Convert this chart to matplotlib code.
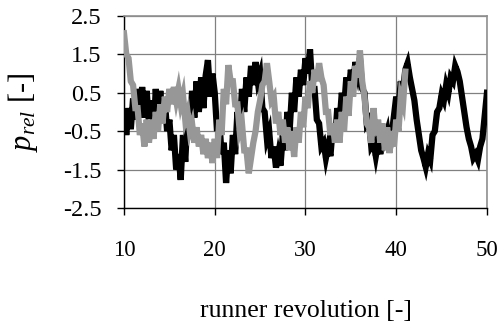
import numpy as np
import matplotlib
matplotlib.use("Agg")
import matplotlib.pyplot as plt

plt.rcParams['font.family'] = ['Liberation Serif', 'DejaVu Serif']
plt.rcParams['mathtext.fontset'] = 'custom'
plt.rcParams['mathtext.rm'] = 'Liberation Serif'
plt.rcParams['mathtext.it'] = 'Liberation Serif:italic'

# runner revolution sampled every quarter turn
rev_black = np.arange(10, 50.001, 0.25)
p_black = [
    0.0, -0.6, 0.1, -0.45, 0.35, -0.2, 0.6, -0.1,
    0.65, -0.15, 0.55, -0.3, 0.3, -0.65, 0.6, -0.2,
    0.55, -0.25, 0.3, -0.5, -0.2, -1.0, -0.6, -1.5,
    -1.1, -1.77, -0.6, -1.3, -0.1, -0.6, 0.55, -0.15,
    0.8, 0.0, 0.9, 0.1, 0.95, 1.35, 0.4, 1.0,
    0.5, -0.5, -0.2, -1.1, -0.8, -1.85, -1.0, -1.6,
    -0.6, -1.1, 0.0, -0.5, 0.6, 0.0, 0.9, 0.4,
    1.2, 0.7, 1.3, 0.8, 1.0, 0.1, 0.0, -0.7,
    -0.5, -1.2, -0.9, -1.45, -1.1, -1.4, -0.6, -1.0,
    0.0, -0.5, 0.5, 0.0, 0.9, 0.4, 1.1, 0.7,
    1.4, 1.0, 1.63, 0.6, 0.6, -0.2, -0.3, -0.9,
    -0.8, -1.2, -0.9, -1.15, -0.4, -0.8, 0.1, -0.3,
    0.5, 0.1, 0.9, 0.5, 1.1, 0.7, 1.3, 1.0,
    1.4, 0.6, 0.5, -0.3, -0.2, -0.9, -0.8, -1.15,
    -0.8, -1.1, -0.4, -0.7, -0.5, -1.05, -0.6, -0.1,
    0.4, 0.1, 0.8, 0.55, 1.1, 1.27, 0.9, 0.6,
    0.3, -0.2, -0.6, -1.0, -1.2, -1.43, -1.1, -1.25,
    -0.6, -0.5, 0.0, 0.1, 0.45, 0.3, 0.7, 0.5,
    0.9, 0.8, 1.2, 1.05, 0.8, 0.4, 0.0, -0.4,
    -0.7, -0.9, -1.2, -1.1, -1.25, -0.9, -0.7, -0.1,
    0.5,
]

rev_grey = np.arange(10, 41.001, 0.25)
p_grey = [
    2.05, 1.5, 1.4, 0.8, 0.7, 0.1, 0.1, -0.6,
    -0.3, -0.9, -0.2, -0.8, -0.2, -0.7, 0.0, -0.5,
    0.2, -0.3, 0.4, 0.0, 0.6, 0.2, 0.65, 0.3,
    0.6, 0.2, 0.45, -0.2, 0.0, -0.5, -0.3, -0.8,
    -0.4, -0.9, -0.6, -1.1, -0.7, -1.2, -0.8, -1.33,
    -0.7, -1.2, -0.2, -0.6, 0.6, 0.2, 1.22, 0.8,
    0.8, 0.2, 0.2, -0.5, -0.3, -1.0, -1.0, -1.6,
    -1.2, -0.8, -0.5, 0.0, 0.3, 0.7, 0.8, 1.27,
    0.8, 0.3, 0.4, -0.3, 0.0, -0.6, -0.2, -0.8,
    -0.4, -1.0, -0.5, -1.17, -0.4, -0.8, 0.0, -0.4,
    0.4, 0.1, 0.8, 0.5, 1.1, 0.8, 1.27, 0.9,
    0.7, 0.0, 0.0, -0.6, -0.3, -0.8, -0.2, -0.8,
    0.0, -0.5, 0.4, -0.1, 0.8, 0.4, 1.2, 0.9,
    1.6, 0.8, 0.4, -0.3, -0.4, -0.8, 0.1, -0.6,
    -0.2, -0.8, -0.3, -1.0, -0.4, -1.07, -0.5, -0.9,
    -0.2, -0.5, 0.4, 0.2,
    1.05,
]

xticks = [10, 20, 30, 40, 50]
yticks = [-2.5, -1.5, -0.5, 0.5, 1.5, 2.5]

fig = plt.figure(figsize=(5.01, 3.29), dpi=100)
ax = fig.add_axes([0.2475, 0.368, 0.7245, 0.5834])

ax.plot(rev_black, p_black, color='black', linewidth=4.5, solid_joinstyle='miter', zorder=3)
ax.plot(rev_grey, p_grey, color='#979797', linewidth=4.5, solid_joinstyle='miter', zorder=4)

ax.set_xlim(10, 50)
ax.set_ylim(-2.5, 2.5)
ax.set_xticks(xticks)
ax.set_yticks(yticks)
ax.set_yticklabels([f"{v:.1f}" for v in yticks])
ax.grid(True, color='#808080', linewidth=0.9)
ax.set_axisbelow(True)

ax.tick_params(axis='x', direction='out', length=5, width=1, pad=18, labelsize=16.5)
ax.tick_params(axis='y', direction='out', length=5, width=1, pad=11, labelsize=17.5)

for side in ['top', 'right']:
    ax.spines[side].set_color('#909090')
    ax.spines[side].set_linewidth(1.2)
for side in ['left', 'bottom']:
    ax.spines[side].set_color('black')
    ax.spines[side].set_linewidth(1)

ax.set_xlabel("runner revolution [-]", fontsize=18.5, labelpad=28)
ax.set_ylabel(r"$p_{rel}$ [-]", fontsize=22, labelpad=17)

fig.savefig("out.png", dpi=100)
